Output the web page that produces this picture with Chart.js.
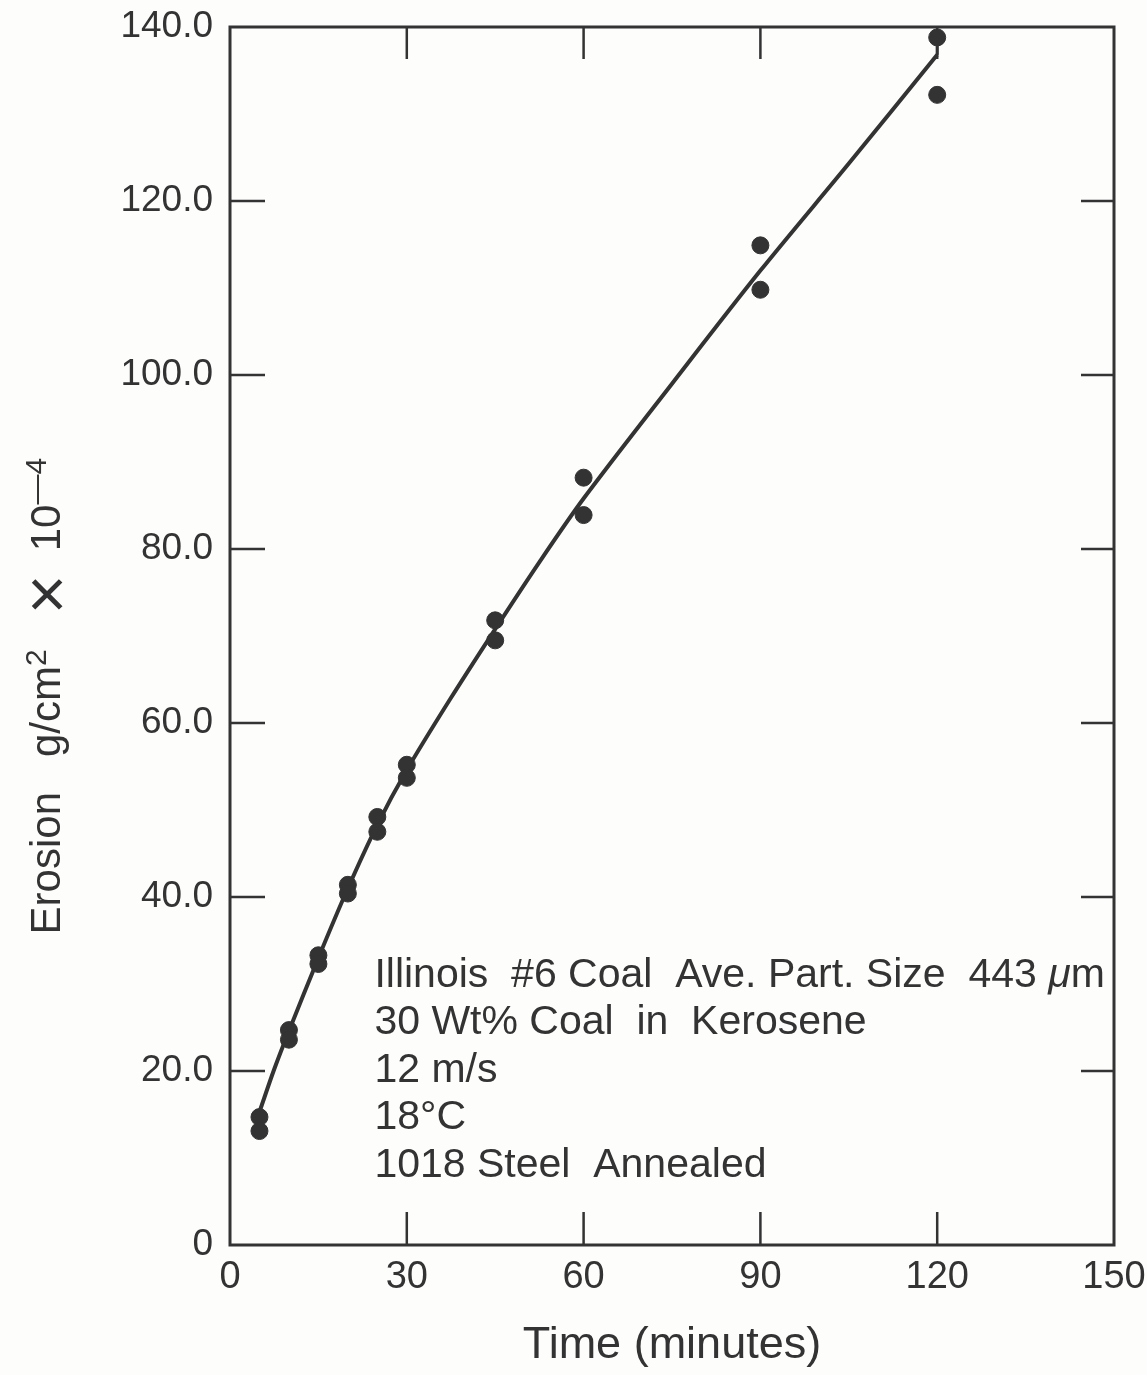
<!DOCTYPE html>
<html>
<head>
<meta charset="utf-8">
<script src="https://cdn.jsdelivr.net/npm/chart.js@4.4.1/dist/chart.umd.min.js"></script>
<style>
  html, body { margin: 0; padding: 0; background: #fdfdfc; }
</style>
</head>
<body>
<canvas id="erosion" width="1147" height="1375"></canvas>
<script>
// measured erosion, two runs per sampling time
const sampleTime = [5, 5, 10, 10, 15, 15, 20, 20, 25, 25, 30, 30, 45, 45, 60, 60, 90, 90, 120, 120]
const sampleErosion = [14.7, 13.1, 24.7, 23.6, 33.3, 32.3, 41.4, 40.4, 49.2, 47.5, 55.2, 53.7, 71.8, 69.5, 88.2, 83.9, 114.9, 109.8, 138.8, 132.2]

// hand-drawn fit through the runs
const fitTime = [5, 7.5, 10, 15, 20, 25, 30, 37.5, 45, 52.5, 60, 75, 90, 105, 120]
const fitErosion = [15.3, 20.2, 24.6, 33.0, 41.0, 48.3, 54.6, 62.9, 70.8, 78.5, 85.8, 99.0, 112.0, 124.3, 136.8]
// little hook where the pen ran up to the top run
const hookTime = [120, 120]
const hookErosion = [136.8, 138.0]

const xTicks = [0, 30, 60, 90, 120, 150]
const yTicks = [0, 20, 40, 60, 80, 100, 120, 140]
const yTickLabels = ['0', '20.0', '40.0', '60.0', '80.0', '100.0', '120.0', '140.0']

const xTitle = 'Time (minutes)'
const yTitleParts = [
  { text: 'Erosion   g/cm', kind: 'text' },
  { text: '2', kind: 'sup' },
  { text: '   ', kind: 'text' },
  { text: '\u00d7', kind: 'big' },
  { text: '  10', kind: 'text' },
  { text: '\u20144', kind: 'sup' },
]
const noteLines = [
  'Illinois  #6 Coal  Ave. Part. Size  443 \u03bcm',
  '30 Wt% Coal  in  Kerosene',
  '12 m/s',
  '18\u00b0C',
  '1018 Steel  Annealed',
]

const INK = '#333333'
const FONT = "'Liberation Sans', Arial, Helvetica, sans-serif"

// box round the plot with inward tick marks on all four sides
const framePlugin = {
  id: 'frame',
  beforeDatasetsDraw(chart) {
    const { ctx, chartArea: a, scales: { x, y } } = chart
    ctx.save()
    ctx.strokeStyle = INK
    ctx.lineWidth = 3
    ctx.strokeRect(a.left, a.top, a.right - a.left, a.bottom - a.top)
    ctx.lineWidth = 2.5
    ctx.beginPath()
    yTicks.slice(1, -1).forEach(v => {
      const py = y.getPixelForValue(v)
      ctx.moveTo(a.left, py); ctx.lineTo(a.left + 35, py)
      ctx.moveTo(a.right, py); ctx.lineTo(a.right - 33, py)
    })
    xTicks.slice(1, -1).forEach(v => {
      const px = x.getPixelForValue(v)
      ctx.moveTo(px, a.top); ctx.lineTo(px, a.top + 32)
      ctx.moveTo(px, a.bottom); ctx.lineTo(px, a.bottom - 33)
    })
    ctx.stroke()
    ctx.restore()
  }
}

// rotated y title with real superscripts
const yTitlePlugin = {
  id: 'yTitle',
  afterDraw(chart) {
    const { ctx, scales: { y } } = chart
    const size = 42
    ctx.save()
    ctx.translate(60, y.getPixelForValue(35.7))
    ctx.rotate(-Math.PI / 2)
    ctx.fillStyle = INK
    ctx.textBaseline = 'alphabetic'
    let cx = 0
    yTitleParts.forEach(p => {
      let fs = size, dy = 0
      if (p.kind === 'sup') { fs = 30; dy = -14 }
      if (p.kind === 'big') { fs = 68; dy = 10 }
      ctx.font = fs + 'px ' + FONT
      ctx.fillText(p.text, cx, dy)
      cx += ctx.measureText(p.text).width
    })
    ctx.restore()
  }
}

// test conditions written inside the plot
const notePlugin = {
  id: 'note',
  afterDraw(chart) {
    const { ctx, scales: { x, y } } = chart
    const size = 41
    const left = x.getPixelForValue(24.5)
    const top = y.getPixelForValue(29.7)
    ctx.save()
    ctx.fillStyle = INK
    ctx.textBaseline = 'alphabetic'
    noteLines.forEach((line, i) => {
      const by = top + i * 47.6
      let cx = left
      line.split(/(\u03bc)/).forEach(seg => {
        ctx.font = (seg === '\u03bc' ? 'italic ' : '') + size + 'px ' + FONT
        ctx.fillText(seg, cx, by)
        cx += ctx.measureText(seg).width
      })
    })
    ctx.restore()
  }
}

const curveStyle = {
  type: 'line',
  borderColor: INK,
  borderWidth: 4,
  pointRadius: 0,
  order: 2,
}

new Chart(document.getElementById('erosion'), {
  type: 'scatter',
  data: {
    datasets: [
      {
        ...curveStyle,
        label: 'fit',
        data: fitTime.map((t, i) => ({ x: t, y: fitErosion[i] })),
        tension: 0.3,
      },
      {
        ...curveStyle,
        label: 'hook',
        data: hookTime.map((t, i) => ({ x: t, y: hookErosion[i] })),
        borderWidth: 3,
      },
      {
        label: 'runs',
        data: sampleTime.map((t, i) => ({ x: t, y: sampleErosion[i] })),
        backgroundColor: INK,
        borderColor: INK,
        pointRadius: 8.5,
        order: 1,
      },
    ]
  },
  options: {
    responsive: false,
    animation: false,
    layout: { autoPadding: false, padding: { top: 27, right: 33, left: 0, bottom: 0 } },
    plugins: { legend: { display: false }, tooltip: { enabled: false } },
    scales: {
      x: {
        type: 'linear',
        min: 0,
        max: 150,
        afterFit: s => { s.height = 130; s.paddingLeft = 0; s.paddingRight = 0 },
        afterBuildTicks: s => { s.ticks = xTicks.map(v => ({ value: v })) },
        grid: { display: false, drawTicks: false },
        border: { display: false },
        ticks: { color: INK, padding: 10, font: { family: FONT, size: 38 }, maxRotation: 0 },
        title: { display: true, text: xTitle, color: INK, padding: { top: 0, bottom: 2 }, font: { family: FONT, size: 45 } },
      },
      y: {
        type: 'linear',
        min: 0,
        max: 140,
        afterFit: s => { s.width = 230; s.paddingTop = 0; s.paddingBottom = 0 },
        afterBuildTicks: s => { s.ticks = yTicks.map(v => ({ value: v })) },
        grid: { display: false, drawTicks: false },
        border: { display: false },
        ticks: {
          color: INK, padding: 17, font: { family: FONT, size: 37 },
          callback: v => yTickLabels[yTicks.indexOf(v)],
        },
      },
    }
  },
  plugins: [framePlugin, yTitlePlugin, notePlugin]
})
</script>
</body>
</html>
